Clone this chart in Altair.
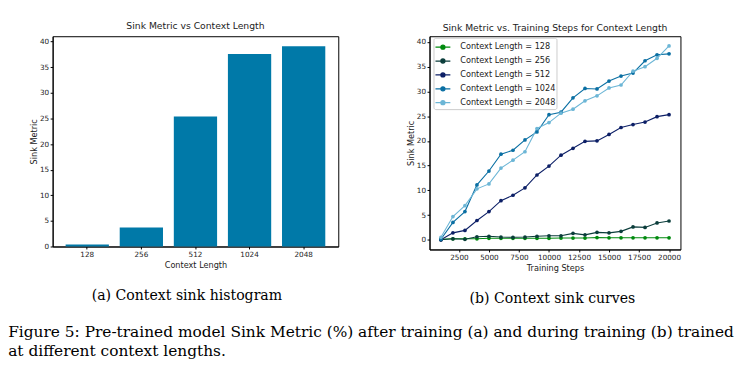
import altair as alt
import pandas as pd

# ---- data: panel (a) ----
contexts = ["128", "256", "512", "1024", "2048"]
final_metric = [0.4, 3.7, 25.4, 37.6, 39.1]

# ---- data: panel (b) ----
steps = [1000, 2000, 3000, 4000, 5000, 6000, 7000, 8000, 9000, 10000,
         11000, 12000, 13000, 14000, 15000, 16000, 17000, 18000, 19000, 20000]
m128 = [0.1, 0.2, 0.2, 0.2, 0.3, 0.3, 0.3, 0.3, 0.3, 0.3,
        0.35, 0.35, 0.35, 0.45, 0.4, 0.4, 0.4, 0.4, 0.4, 0.4]
m256 = [0.0, 0.2, 0.1, 0.6, 0.7, 0.55, 0.5, 0.55, 0.7, 0.8,
        0.8, 1.3, 1.0, 1.5, 1.4, 1.7, 2.6, 2.5, 3.4, 3.8]
m512 = [0.0, 1.4, 1.9, 3.9, 5.7, 7.9, 9.0, 10.5, 13.1, 14.9,
        17.1, 18.5, 19.9, 20.0, 21.3, 22.7, 23.3, 23.8, 24.9, 25.3]
m1024 = [0.1, 3.5, 5.7, 11.1, 13.9, 17.3, 18.1, 20.2, 21.8, 25.3,
         25.8, 28.7, 30.6, 30.5, 32.1, 33.1, 33.7, 36.2, 37.4, 37.6]
m2048 = [0.5, 4.7, 6.9, 10.3, 11.3, 14.5, 16.1, 17.8, 22.5, 23.7,
         25.6, 26.4, 28.1, 29.1, 30.7, 31.3, 34.1, 35.0, 36.7, 39.2]

series_names = ["Context Length = 128", "Context Length = 256", "Context Length = 512",
                "Context Length = 1024", "Context Length = 2048"]
series_values = [m128, m256, m512, m1024, m2048]
series_colors = ["#008a0e", "#0b3d3b", "#0c1f66", "#0a6fa3", "#6cb6d6"]

bar_df = pd.DataFrame({"ctx": contexts, "val": final_metric})
rows = []
for name, vals in zip(series_names, series_values):
    for s, v in zip(steps, vals):
        rows.append({"series": name, "step": s, "val": v})
line_df = pd.DataFrame(rows)

SANS = "DejaVu Sans"
SERIF = "DejaVu Serif"
TICK = 7.3
LAB = 8.2
TTL = 9.3

axis_common = dict(labelFont=SANS, labelFontSize=TICK, titleFont=SANS, titleFontSize=LAB,
                   titleFontWeight="normal", labelColor="#222", titleColor="#222",
                   domainColor="black", tickColor="black", tickSize=2.5, labelPadding=1.5,
                   grid=False)
x_axis = dict(axis_common, titlePadding=3.5)
y_axis = dict(axis_common, titlePadding=1)

left = alt.Chart(bar_df).mark_bar(color="#0079a8").encode(
    x=alt.X("ctx:N", sort=contexts, title="Context Length",
            scale=alt.Scale(paddingInner=0.2, paddingOuter=0.24),
            axis=alt.Axis(labelAngle=0, **x_axis)),
    y=alt.Y("val:Q", title="Sink Metric",
            scale=alt.Scale(domain=[0, 41.06], nice=False, zero=False),
            axis=alt.Axis(values=[0, 5, 10, 15, 20, 25, 30, 35, 40], **y_axis)),
).properties(width=288, height=212,
             title=alt.Title("Sink Metric vs Context Length", font=SANS, fontSize=TTL,
                             fontWeight="normal", color="#222", offset=5))

legend_path = "M-1,0H1M-0.27,0A0.27,0.27,0,1,1,0.27,0A0.27,0.27,0,1,1,-0.27,0Z"
color = alt.Color("series:N", sort=series_names,
                  scale=alt.Scale(domain=series_names, range=series_colors),
                  legend=alt.Legend(title=None, orient="none", legendX=4, legendY=1.5,
                                    symbolType=legend_path, symbolSize=225,
                                    symbolStrokeWidth=1.3, labelFont=SANS, labelFontSize=LAB,
                                    labelColor="#222", labelOffset=9, padding=1,
                                    rowPadding=-1.7, fillColor="white",
                                    strokeColor="#cccccc", cornerRadius=2))

xq = alt.X("step:Q", title="Training Steps", scale=alt.Scale(domain=[50, 20950], nice=False, zero=False),
           axis=alt.Axis(values=[2500, 5000, 7500, 10000, 12500, 15000, 17500, 20000],
                         format="d", **x_axis))
yq = alt.Y("val:Q", title="Sink Metric", scale=alt.Scale(domain=[-1.96, 41.16], nice=False, zero=False),
           axis=alt.Axis(values=[0, 5, 10, 15, 20, 25, 30, 35, 40], **y_axis))

base = alt.Chart(line_df)
lines = base.mark_line(strokeWidth=1.1).encode(x=xq, y=yq, color=color, detail="series:N",
                                                order=alt.Order("step:Q"))
points = base.mark_point(filled=True, size=14, opacity=1).encode(x=xq, y=yq, color=color)
right = alt.layer(lines, points).properties(
    width=253, height=215,
    title=alt.Title("Sink Metric vs. Training Steps for Context Length", font=SANS, fontSize=TTL,
                    fontWeight="normal", color="#222", offset=3))

cap = dict(orient="bottom", anchor="middle", font=SERIF, fontSize=14.2, fontWeight="normal",
           color="black", offset=20)
panel_a = alt.vconcat(left, title=alt.Title("(a) Context sink histogram", dx=3, **cap))
panel_b = alt.vconcat(right, title=alt.Title("(b) Context sink curves", dx=9, **cap)).resolve_legend(
    color="independent")

chart = alt.hconcat(
    panel_a, panel_b, spacing=67,
    title=alt.Title(["Figure 5: Pre-trained model Sink Metric (%) after training (a) and during training (b) trained",
                     "at different context lengths."],
                    orient="bottom", anchor="start", font=SERIF, fontSize=15.5, fontWeight="normal",
                    color="black", offset=20, dx=-21, lineHeight=19),
).resolve_legend(color="independent").properties(
    padding={"left": 0, "top": 12, "right": 0, "bottom": 0}).configure_view(
    stroke="black", strokeWidth=1).configure_concat(spacing=67)

chart.save("out.html", embed_options={"renderer": "svg", "actions": False})
